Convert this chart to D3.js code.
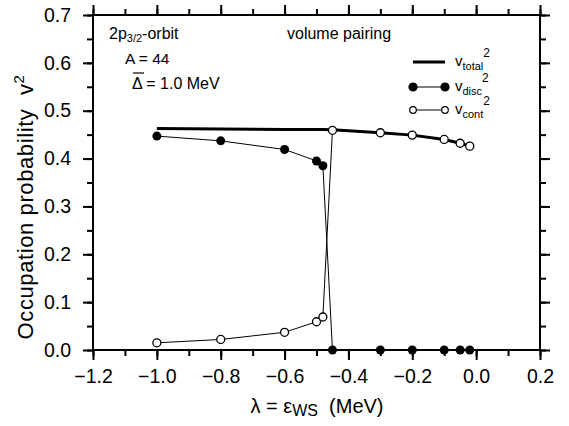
<!DOCTYPE html>
<html>
<head>
<meta charset="utf-8">
<script src="https://cdn.jsdelivr.net/npm/d3@7"></script>
<style>
  body { margin: 0; background: #fff; }
  text { font-family: "Liberation Sans", Arial, sans-serif; white-space: pre; }
</style>
</head>
<body>
<div id="chart"></div>
<script>
// values
const lambda = [-1.0, -0.8, -0.6, -0.5, -0.48, -0.45, -0.3, -0.2, -0.1, -0.05, -0.02];
const vDisc  = [0.447, 0.437, 0.419, 0.395, 0.385, 0.0, 0.0, 0.0, 0.0, 0.0, 0.0];
const vCont  = [0.015, 0.022, 0.037, 0.059, 0.069, 0.459, 0.454, 0.449, 0.440, 0.432, 0.426];
const vTotal = [0.463, 0.462, 0.461, 0.461, 0.461, 0.460, 0.454, 0.449, 0.440, 0.432, 0.426];
const xTicks = [-1.2, -1.0, -0.8, -0.6, -0.4, -0.2, 0.0, 0.2];
const yTicks = [0.0, 0.1, 0.2, 0.3, 0.4, 0.5, 0.6, 0.7];

function main() {
    const width = 569, height = 426;
    const svg = d3.select("#chart").append("svg")
        .attr("width", width)
        .attr("height", height)

    const x = d3.scaleLinear().domain([-1.2, 0.2]).range([93, 540])
    const y = d3.scaleLinear().domain([0, 0.7]).range([350, 15])

    const xMinor = d3.range(-12, 3).map(d => d / 10)
    const yMinor = d3.range(0, 15).map(d => d / 20)

    // minor ticks on all four sides
    svg.append("g").attr("transform", "translate(0,350)")
        .call(d3.axisBottom(x).tickValues(xMinor).tickSize(6).tickFormat(""))
    svg.append("g").attr("transform", "translate(0,15)")
        .call(d3.axisTop(x).tickValues(xMinor).tickSize(6).tickFormat(""))
    svg.append("g").attr("transform", "translate(93,0)")
        .call(d3.axisLeft(y).tickValues(yMinor).tickSize(6).tickFormat(""))
    svg.append("g").attr("transform", "translate(540,0)")
        .call(d3.axisRight(y).tickValues(yMinor).tickSize(6).tickFormat(""))

    // major ticks
    svg.append("g").attr("transform", "translate(0,350)")
        .call(d3.axisBottom(x).tickValues(xTicks).tickSize(10).tickPadding(9).tickFormat(d3.format(".1f")))
    svg.append("g").attr("transform", "translate(0,15)")
        .call(d3.axisTop(x).tickValues(xTicks).tickSize(10).tickFormat(""))
    svg.append("g").attr("transform", "translate(93,0)")
        .call(d3.axisLeft(y).tickValues(yTicks).tickSize(10).tickPadding(12).tickFormat(d3.format(".1f")))
    svg.append("g").attr("transform", "translate(540,0)")
        .call(d3.axisRight(y).tickValues(yTicks).tickSize(10).tickFormat(""))

    svg.selectAll(".domain").remove()
    svg.selectAll(".tick line").attr("stroke", "#000").attr("stroke-width", 2)
    svg.selectAll(".tick text").attr("fill", "#000").style("font-size", "19.5px")
        .style("font-family", "Liberation Sans, Arial, sans-serif")

    // frame
    svg.append("rect")
        .attr("x", 93).attr("y", 15)
        .attr("width", 447).attr("height", 335)
        .attr("fill", "none").attr("stroke", "#000").attr("stroke-width", 2)

    const pts = arr => lambda.map((l, i) => [l, arr[i]])
    const line = d3.line().x(d => x(d[0])).y(d => y(d[1]))

    const g = svg.append("g")
    g.append("path").attr("d", line(pts(vTotal)))
        .attr("fill", "none").attr("stroke", "#000").attr("stroke-width", 3)
    g.append("path").attr("d", line(pts(vDisc)))
        .attr("fill", "none").attr("stroke", "#000").attr("stroke-width", 1)
    g.append("path").attr("d", line(pts(vCont)))
        .attr("fill", "none").attr("stroke", "#000").attr("stroke-width", 1)

    g.selectAll(".disc").data(pts(vDisc)).join("circle")
        .attr("cx", d => x(d[0])).attr("cy", d => y(d[1]))
        .attr("r", 4.5).attr("fill", "#000")
    g.selectAll(".cont").data(pts(vCont)).join("circle")
        .attr("class", "cont")
        .attr("cx", d => x(d[0])).attr("cy", d => y(d[1]))
        .attr("r", 4).attr("fill", "#fff").attr("stroke", "#000").attr("stroke-width", 1.3)

    // legend
    const leg = svg.append("g")
    const legRows = [
        { name: "total", y: 62, marker: null, w: 3 },
        { name: "disc", y: 87, marker: "fill", w: 1 },
        { name: "cont", y: 110, marker: "open", w: 1 }
    ]
    legRows.forEach(r => {
        leg.append("line").attr("x1", 413).attr("x2", 445)
            .attr("y1", r.y).attr("y2", r.y)
            .attr("stroke", "#000").attr("stroke-width", r.w)
        if (r.marker) {
            [413, 445].forEach(cx => {
                leg.append("circle").attr("cx", cx).attr("cy", r.y)
                    .attr("r", r.marker == "fill" ? 4 : 3.3)
                    .attr("fill", r.marker == "fill" ? "#000" : "#fff")
                    .attr("stroke", "#000").attr("stroke-width", 1.2)
            })
        }
        const t = leg.append("text").attr("x", 455).attr("y", r.y + 4)
            .style("font-size", "15px")
        t.append("tspan").text("v")
        t.append("tspan").attr("dy", 4).style("font-size", "11px").text(r.name)
        t.append("tspan").attr("dy", -13).style("font-size", "12px").text("2")
    })

    // annotations
    const t1 = svg.append("text").attr("x", 109).attr("y", 39).style("font-size", "16px")
    t1.append("tspan").text("2p")
    t1.append("tspan").attr("dy", 3).style("font-size", "11px").text("3/2")
    t1.append("tspan").attr("dy", -3).text("-orbit")

    svg.append("text").attr("x", 287).attr("y", 39).style("font-size", "16px").text("volume pairing")
    svg.append("text").attr("x", 125).attr("y", 64).style("font-size", "15.5px").text("A = 44")
    svg.append("text").attr("x", 132).attr("y", 89).style("font-size", "16px")
        .text("Δ = 1.0 MeV")
    svg.append("line").attr("x1", 133).attr("x2", 144).attr("y1", 73).attr("y2", 73)
        .attr("stroke", "#000").attr("stroke-width", 1.2)

    // axis titles
    const xt = svg.append("text").attr("x", 317).attr("y", 413)
        .attr("text-anchor", "middle").style("font-size", "20px")
    xt.append("tspan").text("λ = ε")
    xt.append("tspan").attr("dy", 3).style("font-size", "16px").text("WS")
    xt.append("tspan").attr("dy", -3).text("  (MeV)")

    const yt = svg.append("text")
        .attr("transform", "translate(33,207) rotate(-90)")
        .attr("text-anchor", "middle").style("font-size", "22px")
        .style("letter-spacing", "0.6px")
    yt.append("tspan").text("Occupation probability  v")
    yt.append("tspan").attr("dy", -9).style("font-size", "15px").text("2")
}
main();
</script>
</body>
</html>
